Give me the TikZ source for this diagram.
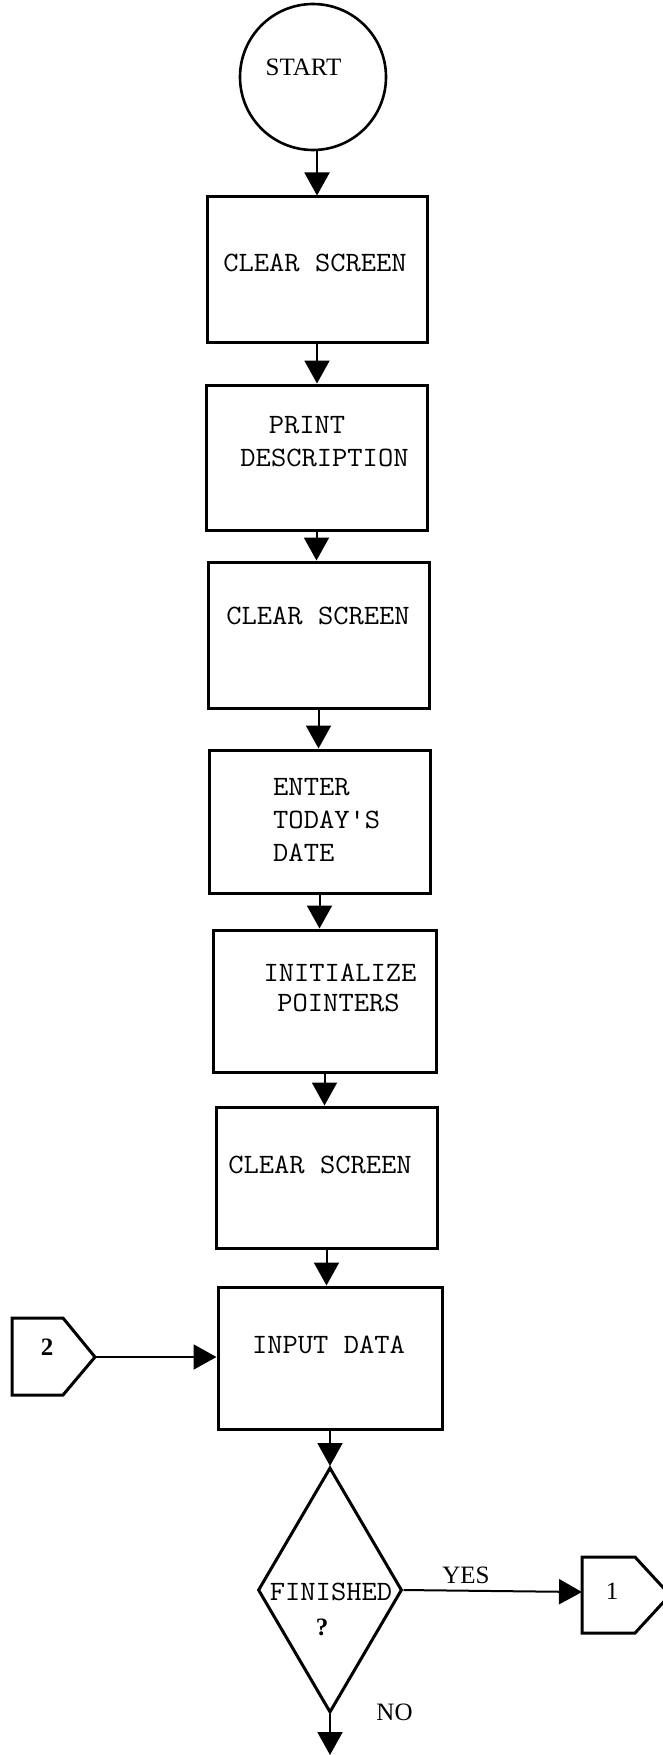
\documentclass[tikz,border=0pt]{standalone}
\usepackage{fontspec}
\usepackage{graphicx}
\setmainfont{Liberation Serif}
\usetikzlibrary{arrows.meta,shapes.geometric}
% typewriter lettering, widened slightly to the typed pitch
\newcommand{\typed}[1]{\scalebox{1.06}[1]{#1}}
\begin{document}
\begin{tikzpicture}[x=1pt,y=-1pt,
  stepbox/.style={draw, line width=3pt, inner sep=0pt},
  flow/.style={line width=2pt, -{Triangle[length=23pt,width=25pt]}},
  tt/.style={font=\fontsize{28}{32}\selectfont\ttfamily, inner sep=0pt},
  rm/.style={font=\fontsize{25}{29}\selectfont, inner sep=0pt},
  offpage/.style={draw, line width=3pt, line join=miter},
  ]
\useasboundingbox (0,0) rectangle (662,1755);

% terminal
\node[stepbox, line width=2.6pt, circle, minimum size=146pt] (start) at (313,77) {};
\node[rm] (starttxt) at (303.5,67.5) {START};

% process boxes
\node[stepbox, minimum width=220pt, minimum height=145pt] (b1) at (317,269.5) {};
\node[stepbox, minimum width=221pt, minimum height=145pt] (b2) at (316.5,457.5) {};
\node[stepbox, minimum width=221pt, minimum height=146pt] (b3) at (318.5,635) {};
\node[stepbox, minimum width=221pt, minimum height=143pt] (b4) at (319.5,821.5) {};
\node[stepbox, minimum width=223pt, minimum height=142pt] (b5) at (324.5,1001) {};
\node[stepbox, minimum width=221pt, minimum height=141pt] (b6) at (326.5,1177.5) {};
\node[stepbox, minimum width=224pt, minimum height=142pt] (b7) at (330,1358) {};

% box texts
\node[tt] (t1) at (315,263) {\typed{CLEAR SCREEN}};
\node[tt] (t2a) at (307,425) {\typed{PRINT}};
\node[tt] (t2b) at (324.5,458) {\typed{DESCRIPTION}};
\node[tt] (t3) at (318,616) {\typed{CLEAR SCREEN}};
\node[tt, anchor=west] (t4a) at (273,787) {\typed{ENTER}};
\node[tt, anchor=west] (t4b) at (273,820) {\typed{TODAY\textquotesingle S}};
\node[tt, anchor=west] (t4c) at (273,853) {\typed{DATE}};
\node[tt] (t5a) at (340,973) {\typed{INITIALIZE}};
\node[tt] (t5b) at (338.5,1003) {\typed{POINTERS}};
\node[tt] (t6) at (320,1165) {\typed{CLEAR SCREEN}};
\node[tt] (t7) at (328.5,1345) {\typed{INPUT DATA}};

% decision
\node[stepbox, diamond, minimum width=144pt, minimum height=245pt] (dec) at (330,1590) {};
\node[tt] (dect) at (331,1592) {\typed{FINISHED}};
\node[rm, font=\fontsize{25}{29}\selectfont\bfseries] (decq) at (322,1627) {?};

% off-page connectors
\coordinate (c2tip) at (95,1357);
\draw[offpage] (12,1318) -- (63,1318) -- (c2tip) -- (63,1395) -- (12,1395) -- cycle;
\node[rm, font=\fontsize{25}{29}\selectfont\bfseries] (c2txt) at (47,1347) {2};

\coordinate (c1in) at (582,1592);
\draw[offpage] (582,1557) -- (635,1557) -- (670,1595) -- (635,1633) -- (582,1633) -- cycle;
\node[rm] (c1txt) at (612,1591) {1};

\coordinate (exit) at (330,1755);

% flow lines
\draw[flow] (start.south -| b1.north) -- (b1.north);
\draw[flow] (b1.south) -- (b1.south |- b2.north);
\draw[flow] (b2.south) -- (b2.south |- b3.north);
\draw[flow] (b3.south) -- (b3.south |- b4.north);
\draw[flow] (b4.south) -- (b4.south |- b5.north);
\draw[flow] (b5.south) -- (b5.south |- b6.north);
\draw[flow] (b6.south) -- (b6.south |- b7.north);
\draw[flow] (b7.south) -- (b7.south |- dec.north);
\draw[flow] (c2tip) -- (c2tip -| b7.west);
\draw[flow] (dec.east) -- (c1in);
\draw[flow] (dec.south) -- (exit);

% branch labels
\node[rm] (yes) at (466,1575) {YES};
\node[rm] (no) at (394.5,1712) {NO};
\end{tikzpicture}
\end{document}
